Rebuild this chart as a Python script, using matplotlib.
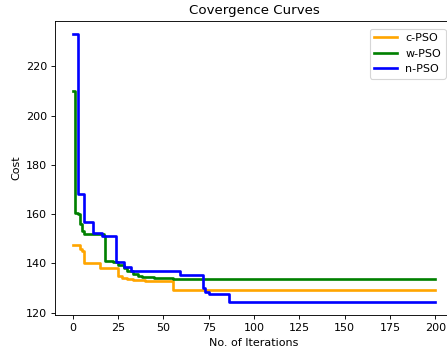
import matplotlib
matplotlib.use("Agg")
import matplotlib.pyplot as plt
import numpy as np

last_iter = 200

# (iteration, best cost) where the best cost changes
c_iters = [0, 4, 5, 6, 15, 25, 27, 30, 33, 40, 55, 100]
c_cost = [147.5, 146.0, 145.0, 140.0, 138.2, 135.0, 134.0, 133.5, 133.2, 132.7, 129.4, 129.2]

w_iters = [0, 1, 3, 4, 5, 6, 17, 18, 22, 25, 28, 30, 33, 36, 38, 45, 55]
w_cost = [210.0, 160.5, 160.0, 156.0, 153.0, 152.0, 151.0, 141.0, 140.7, 139.5, 138.0, 137.0,
          135.8, 135.0, 134.5, 134.0, 133.7]

n_iters = [0, 3, 6, 11, 16, 24, 28, 32, 59, 72, 73, 75, 86]
n_cost = [233.0, 168.3, 157.0, 152.5, 151.0, 140.7, 138.4, 137.0, 135.3, 130.0, 128.3, 127.6,
          124.4]


def steps(iters, cost):
    x = np.array(iters + [last_iter])
    y = np.array(cost + [cost[-1]])
    return x, y


fig = plt.figure(figsize=(447 / 80, 354 / 80), dpi=80)
ax = fig.add_axes([0.1224, 0.1093, 0.892, 0.832])

x, y = steps(c_iters, c_cost)
ax.plot(x, y, color='orange', linewidth=2.4, drawstyle='steps-post', label='c-PSO')
x, y = steps(w_iters, w_cost)
ax.plot(x, y, color='green', linewidth=2.4, drawstyle='steps-post', label='w-PSO')
x, y = steps(n_iters, n_cost)
ax.plot(x, y, color='blue', linewidth=2.4, drawstyle='steps-post', label='n-PSO')

ax.set_xticks([0, 25, 50, 75, 100, 125, 150, 175, 200])
ax.set_yticks([120, 140, 160, 180, 200, 220])
ax.set_title("Covergence Curves")
ax.set_xlabel("No. of Iterations")
ax.set_ylabel("Cost")
ax.legend(loc='upper right', borderaxespad=0.7)

fig.savefig("out.png", dpi=80)
